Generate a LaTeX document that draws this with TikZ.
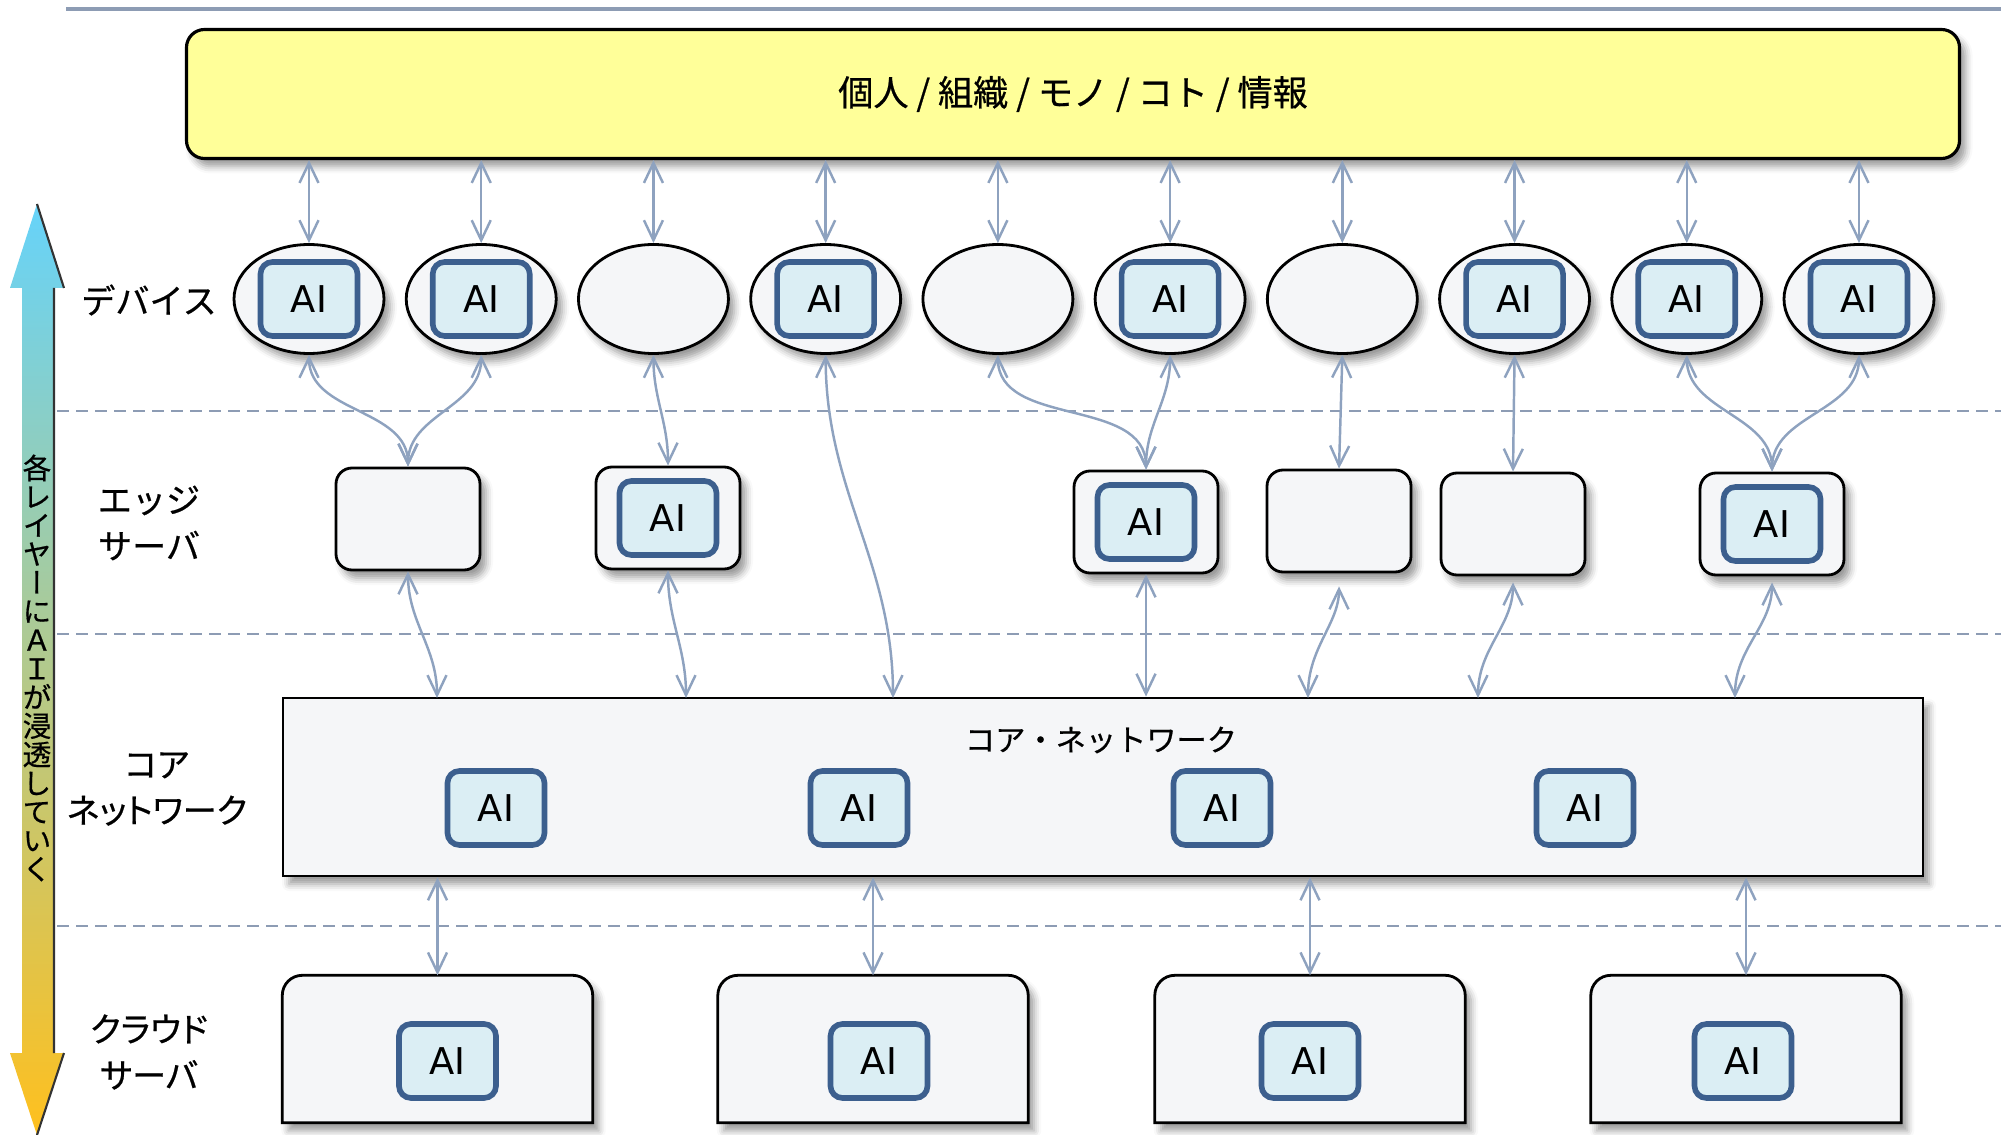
\documentclass[tikz,border=0pt]{standalone}
\usepackage{fontspec}
\setmainfont{Noto Sans CJK JP}[FakeBold=0.6]
\newfontfamily\aifont{DejaVu Sans}
\newfontfamily\tatefont{Noto Sans CJK JP}[RawFeature=+vert, FakeBold=0.6]
\newfontfamily\propfont{Noto Sans CJK JP}[RawFeature=+palt, FakeBold=0.6]
\usepackage{tikz}
\usetikzlibrary{shapes.geometric, arrows.meta, shadows.blur, positioning}

\definecolor{infoyellow}{HTML}{FFFF99}
\definecolor{boxgray}{HTML}{F5F6F8}
\definecolor{aifill}{HTML}{DBEEF4}
\definecolor{aiblue}{HTML}{3C5F8E}
\definecolor{linkblue}{HTML}{8EA2BF}
\definecolor{ruleblue}{HTML}{8D9CB4}
\definecolor{arrowtop}{HTML}{66D3FA}
\definecolor{arrowmid}{HTML}{C6C3B2}
\definecolor{arrowbot}{HTML}{FFC01E}

\tikzset{
>={Straight Barb[length=2mm,width=1.9mm]}, % open arrow heads
boxshadow/.style={blur shadow={shadow xshift=0.6mm, shadow yshift=-0.8mm, shadow blur radius=0.7mm, shadow opacity=40}},
infobox/.style={draw, line width=0.9pt, fill=infoyellow, rounded corners=1.8mm, minimum width=17.73cm, minimum height=1.29cm, boxshadow, font=\fontsize{10}{12}\selectfont},
device/.style={ellipse, draw, line width=0.8pt, fill=boxgray, minimum width=1.50cm, minimum height=1.09cm, inner sep=0pt, boxshadow},
edgebox/.style={draw, line width=0.8pt, fill=boxgray, rounded corners=1.6mm, minimum width=1.44cm, minimum height=1.02cm, inner sep=0pt, boxshadow},
corebox/.style={draw, line width=0.8pt, fill=boxgray, minimum width=16.40cm, minimum height=1.78cm, inner sep=0pt, boxshadow},
cloudslot/.style={minimum width=3.09cm, minimum height=1.46cm, inner sep=0pt}, % place holder for the cloud servers
cloudbox/.style={draw, line width=0.8pt, fill=boxgray, boxshadow},
aibox/.style={draw=aiblue, line width=1.6pt, fill=aifill, rounded corners=1.2mm, minimum width=0.97cm, minimum height=0.74cm, inner sep=0pt, font=\aifont\fontsize{10.5}{12}\selectfont},
layer/.style={align=center, font=\fontsize{9.7}{13.1}\selectfont, inner sep=0pt},
link/.style={<->, draw=linkblue, line width=0.7pt},
layerline/.style={draw=ruleblue, line width=0.8pt, dash pattern=on 1.2mm off 0.7mm},
}

\begin{document}
\begin{tikzpicture}
\useasboundingbox (0,0) rectangle (20.01,-11.35);

% rule at the top and the layer borders
\draw[draw=ruleblue, line width=0.9pt] (0.66,-0.09) -- (20.01,-0.09);
\foreach \y in {-4.11,-6.34,-9.26}
  \draw[layerline] (0.57,\y) -- (20.01,\y);

% arrow on the left
\shade[top color=arrowtop, middle color=arrowmid, bottom color=arrowbot]
  (0.37,-2.04) -- (0.64,-2.88) -- (0.54,-2.88) -- (0.54,-10.53) -- (0.64,-10.53) -- (0.37,-11.35)
  -- (0.10,-10.53) -- (0.22,-10.53) -- (0.22,-2.88) -- (0.10,-2.88) -- cycle;
\draw[line width=0.6pt, black!80] (0.37,-2.04) -- (0.64,-2.88) (0.54,-2.88) -- (0.54,-10.53) (0.64,-10.53) -- (0.37,-11.35);
\node[font=\tatefont\fontsize{8.15}{8.15}\selectfont, align=center, inner sep=0pt] (tate) at (0.37,-6.68)
  {各\\レ\\イ\\ヤ\\ー\\に\\Ａ\\Ｉ\\が\\浸\\透\\し\\て\\い\\く};

% layers
\node[layer] (l-dev) at (1.49,-3.00) {デバイス};
\node[layer] (l-edge) at (1.49,-5.23) {エッジ\\サーバ};
\node[layer, font=\propfont\fontsize{9.7}{13.1}\selectfont] (l-core) at (1.57,-7.89) {コア\\ネットワーク};
\node[layer, font=\propfont\fontsize{9.7}{13.1}\selectfont] (l-cloud) at (1.49,-10.52) {クラウド\\サーバ};

\node[infobox] (info) at (10.73,-0.94) {個人 / 組織 / モノ / コト / 情報};

% devices
\foreach \i in {1,...,10}
  \node[device] (d\i) at ({3.09+1.7222*(\i-1)},-2.99) {};
\foreach \i in {1,2,4,6,8,9,10}
  \node[aibox] (ai-d\i) at (d\i) {AI};

% edge servers
\node[edgebox] (e1) at (4.08,-5.19) {};
\node[edgebox] (e2) at (6.68,-5.18) {};
\node[edgebox] (e3) at (11.46,-5.22) {};
\node[edgebox] (e4) at (13.39,-5.21) {};
\node[edgebox] (e5) at (15.13,-5.24) {};
\node[edgebox] (e6) at (17.72,-5.24) {};
\foreach \i in {2,3,6}
  \node[aibox] (ai-e\i) at (e\i) {AI};

% core network
\node[corebox] (core) at (11.03,-7.87) {};
\node[font=\fontsize{8.6}{10}\selectfont] (corelabel) at (11.01,-7.40) {コア・ネットワーク};
\foreach \i in {1,...,4}
  \node[aibox] (ai-k\i) at ({4.96+3.63*(\i-1)},-8.08) {AI};

% cloud servers
\foreach \i/\x in {1/4.375,2/8.73,3/13.10,4/17.46}
  \node[cloudslot] (c\i) at (\x,-10.49) {};
\foreach \i in {1,...,4}
  \draw[cloudbox] (c\i.south west) -- ([yshift=-2mm]c\i.north west) arc[start angle=180,end angle=90,radius=2mm]
    -- ([xshift=-2mm]c\i.north east) arc[start angle=90,end angle=0,radius=2mm] -- (c\i.south east) -- cycle;
\foreach \i/\dx in {1/0.10,2/0.06,3/0,4/-0.03}
  \node[aibox] (ai-c\i) at ([xshift=\dx cm, yshift=-0.12cm]c\i.center) {AI};

% links
\coordinate (k1) at (4.37,-6.98);
\coordinate (k2) at (6.86,-6.98);
\coordinate (k3) at (8.93,-6.98);
\coordinate (k5) at (13.08,-6.98);
\coordinate (k6) at (14.78,-6.98);
\coordinate (k7) at (17.35,-6.98);

\foreach \i in {1,...,10}
  \draw[link] (info.south -| d\i) -- (d\i.north);

\draw[link] (d1.south) to[out=-90,in=90] (e1.north);
\draw[link] (d2.south) to[out=-90,in=90] (e1.north);
\draw[link] (d3.south) to[out=-90,in=90] (e2.north);
\draw[link] (d4.south) to[out=-90,in=90] (k3);
\draw[link] (d5.south) to[out=-90,in=90] (e3.north);
\draw[link] (d6.south) to[out=-90,in=90] (e3.north);
\draw[link] (d7.south) -- (e4.north);
\draw[link] (d8.south) -- (e5.north);
\draw[link] (d9.south) to[out=-90,in=90] (e6.north);
\draw[link] (d10.south) to[out=-90,in=90] (e6.north);

\draw[link] (e1.south) to[out=-90,in=90] (k1);
\draw[link] (e2.south) to[out=-90,in=90] (k2);
\draw[link] (e3.south) -- (e3.south |- core.north);
\draw[link, shorten <=1.3mm] (e4.south) to[out=-90,in=90] (k5);
\draw[link, shorten <=0.6mm] (e5.south) to[out=-90,in=90] (k6);
\draw[link, shorten <=0.6mm] (e6.south) to[out=-90,in=90] (k7);

\foreach \i in {1,...,4}
  \draw[link] (c\i.north |- core.south) -- (c\i.north);
\end{tikzpicture}
\end{document}
